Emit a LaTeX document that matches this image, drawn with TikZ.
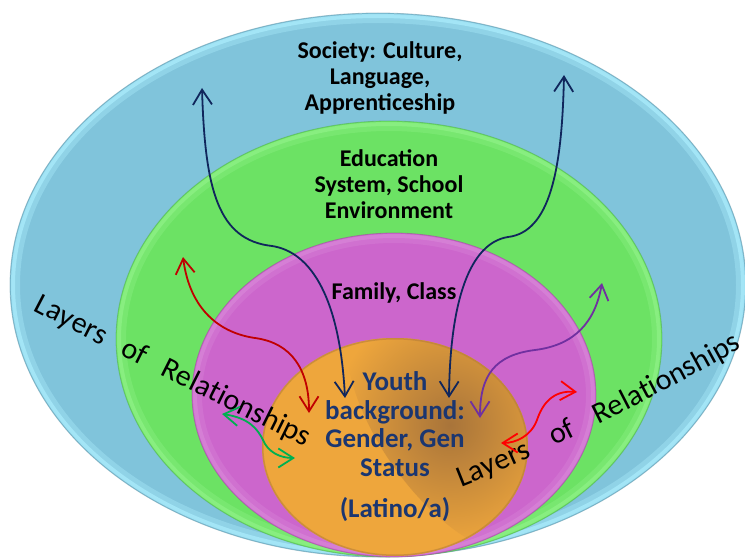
\documentclass[tikz,border=0pt]{standalone}
\usepackage{fontspec}
\setmainfont{Carlito}
\usetikzlibrary{arrows.meta,decorations.text}
\definecolor{sky}{HTML}{80C4DB}
\definecolor{skyrim}{HTML}{A8EAFA}
\definecolor{grass}{HTML}{6CE264}
\definecolor{grassrim}{HTML}{8CF084}
\definecolor{orchid}{HTML}{CC66CC}
\definecolor{orchidrim}{HTML}{D783D7}
\definecolor{amber}{HTML}{EEA63C}
\definecolor{umber}{HTML}{A8743A}
\definecolor{navy}{HTML}{10265C}
\definecolor{youthblue}{HTML}{1B3670}
\definecolor{darkred}{HTML}{C00000}
\definecolor{purple}{HTML}{7030A0}
\definecolor{leaf}{HTML}{00B050}
\definecolor{brightred}{HTML}{FF0000}

\begin{document}
\begin{tikzpicture}[x=1pt,y=-1pt,
  lab/.style={font=\bfseries\fontsize{24}{26}\selectfont,align=center},
  youth/.style={font=\bfseries\fontsize{27}{28.5}\selectfont,align=center,text=youthblue},
  link/.style={line width=1.8pt,{Straight Barb[length=15pt,width=19pt]}-{Straight Barb[length=15pt,width=19pt]}},
  layertext/.style={decorate,decoration={text along path,text align={fit to path stretching spaces},
    text={|\fontsize{30}{32}\selectfont|Layers of Relationships}}}]
\useasboundingbox (0,0) rectangle (745,559);
\clip (0,0) rectangle (745,559);
% rings, outside in
\foreach \cx/\cy/\rx/\ry/\c/\r in {378/285/368/272/sky/skyrim,389/339/273/218/grass/grassrim,394/395/202/162/orchid/orchidrim}{
  \fill[\c] (\cx,\cy) ellipse [x radius=\rx,y radius=\ry];
  \draw[\r,line width=8pt,opacity=0.4] (\cx,\cy) ellipse [x radius=\rx-6,y radius=\ry-6];
  \draw[\r,line width=4pt,opacity=0.8] (\cx,\cy) ellipse [x radius=\rx-3,y radius=\ry-3];
  \draw[\c!75!black,line width=0.8pt,opacity=0.5] (\cx,\cy) ellipse [x radius=\rx,y radius=\ry];
}
\begin{scope}
  \clip (395,447) ellipse [x radius=133,y radius=109];
  \fill[amber] (395,447) ellipse [x radius=133,y radius=109];
  \shade[inner color=umber,outer color=amber,rotate around={-55:(450,425)}] (450,425) ellipse [x radius=150,y radius=70];
  \draw[umber!80!amber,line width=3pt,opacity=0.6] (395,447) ellipse [x radius=133,y radius=109];
\end{scope}

\node[lab] (society) at (380,78) {Society: Culture,\\Language,\\Apprenticeship};
\node[lab] (school) at (389,184) {Education\\System, School\\Environment};
\node[lab] (family) at (394,293) {Family, Class};
\node[youth] (youth) at (395,447) {Youth\\background:\\Gender, Gen\\Status\\[13pt](Latino/a)};

\path[layertext] (33,310) .. controls (100,345) and (230,410) .. (305,447);
\path[layertext] (461,487) .. controls (540,456) and (655,397) .. (742,348);

% arrow ends
\coordinate (navyL1) at (202,88);  \coordinate (navyL2) at (345,398);
\coordinate (navyR1) at (564,75);  \coordinate (navyR2) at (449,398);
\coordinate (redL1) at (183,257);  \coordinate (redL2) at (309,413);
\coordinate (purp1) at (602,283);  \coordinate (purp2) at (480,418);
\coordinate (leaf1) at (222,414);  \coordinate (leaf2) at (295,458);
\coordinate (redR1) at (577,392);  \coordinate (redR2) at (501,443);

\draw[link,navy] (navyL1) .. controls (205,190) and (218,240) .. (272,246) .. controls (312,252) and (340,300) .. (navyL2);
\draw[link,navy] (navyR1) .. controls (562,170) and (550,232) .. (508,237) .. controls (470,243) and (450,300) .. (navyR2);
\draw[link,darkred] (redL1) .. controls (190,310) and (220,333) .. (255,338) .. controls (292,343) and (309,370) .. (redL2);
\draw[link,purple] (purp1) .. controls (595,322) and (575,345) .. (535,350) .. controls (495,355) and (480,375) .. (purp2);
\draw[link,leaf] (leaf1) .. controls (250,418) and (258,430) .. (263,440) .. controls (268,452) and (280,458) .. (leaf2);
\draw[link,brightred] (redR1) .. controls (552,390) and (542,405) .. (537,420) .. controls (531,436) and (516,443) .. (redR2);
\end{tikzpicture}
\end{document}
